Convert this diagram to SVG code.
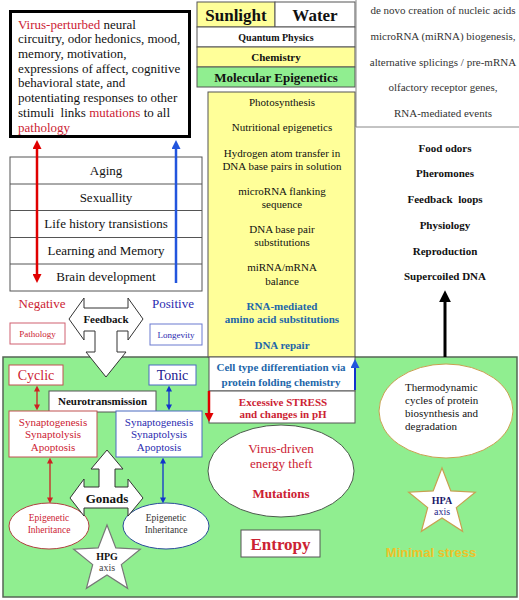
<svg xmlns="http://www.w3.org/2000/svg" width="519" height="600" viewBox="0 0 519 600" font-family="Liberation Serif, Times New Roman, serif">
<style>
text{font-family:"Liberation Serif","Times New Roman",serif;fill:#111;text-anchor:middle}
.b{font-weight:bold}
.red{fill:#cc2233}
.blue{fill:#2b2bb0}
.steel{fill:#2266aa;font-weight:bold}
.box{fill:#fff;stroke:#555;stroke-width:1}
.yel{fill:#ffff99;stroke:#555;stroke-width:1}
.grn{fill:#90ee90;stroke:#555;stroke-width:1}
.gray{fill:#333}
</style>
<defs>
<marker id="hRed" viewBox="0 0 10 10" refX="1" refY="5" markerWidth="10" markerHeight="9" markerUnits="userSpaceOnUse" orient="auto-start-reverse"><path d="M0,0 L10,5 L0,10 z" fill="#e00000"/></marker>
<marker id="hBlue" viewBox="0 0 10 10" refX="1" refY="5" markerWidth="10" markerHeight="9" markerUnits="userSpaceOnUse" orient="auto-start-reverse"><path d="M0,0 L10,5 L0,10 z" fill="#2255dd"/></marker>
<marker id="hBlack" viewBox="0 0 10 10" refX="1" refY="5" markerWidth="12" markerHeight="12" markerUnits="userSpaceOnUse" orient="auto-start-reverse"><path d="M0,0 L10,5 L0,10 z" fill="#000"/></marker>
<marker id="sRed" viewBox="0 0 10 10" refX="1" refY="5" markerWidth="6" markerHeight="6" markerUnits="userSpaceOnUse" orient="auto-start-reverse"><path d="M0,0 L10,5 L0,10 z" fill="#cc2222"/></marker>
<marker id="sBlue" viewBox="0 0 10 10" refX="1" refY="5" markerWidth="6" markerHeight="6" markerUnits="userSpaceOnUse" orient="auto-start-reverse"><path d="M0,0 L10,5 L0,10 z" fill="#1133cc"/></marker>
<polygon id="star" points="0,-35 8.8,-12.1 33.3,-10.8 14.3,4.6 20.6,28.3 0,15 -20.6,28.3 -14.3,4.6 -33.3,-10.8 -8.8,-12.1"/>
</defs>

<!-- green region -->
<rect x="3" y="357" width="514" height="240" fill="#90ee90" stroke="#556655" stroke-width="1.5"/>

<!-- top-left text box -->
<g id="virusBox">
<rect x="10.5" y="11.5" width="179" height="125" fill="#fff"/>
<text x="18" font-size="13" style="text-anchor:start">
<tspan x="18" y="28.5"><tspan class="red">Virus-perturbed</tspan> neural</tspan>
<tspan x="18" y="43">circuitry, odor hedonics, mood,</tspan>
<tspan x="18" y="57.5">memory, motivation,</tspan>
<tspan x="18" y="72.5">expressions of affect, cognitive</tspan>
<tspan x="18" y="87">behavioral state, and</tspan>
<tspan x="18" y="102">potentiating responses to other</tspan>
<tspan x="18" y="117">stimuli&#160; links <tspan class="red">mutations</tspan> to all</tspan>
<tspan x="18" y="132" class="red">pathology</tspan>
</text>
<rect x="10.5" y="11.5" width="179" height="125" fill="none" stroke="#000" stroke-width="3"/>
</g>

<!-- header -->
<g id="sunlight"><rect class="yel" x="197" y="2" width="78" height="25"/><text class="b" x="236" y="21" font-size="17">Sunlight</text></g>
<g id="water"><rect class="box" x="275" y="2" width="80" height="25"/><text class="b" x="315" y="21" font-size="17">Water</text></g>
<g id="quantum"><rect class="box" x="197" y="27" width="158" height="20"/><text class="b" x="276" y="41" font-size="10">Quantum Physics</text></g>
<g id="chemistry"><rect class="yel" x="197" y="47" width="158" height="20"/><text class="b" x="276" y="61" font-size="11">Chemistry</text></g>
<g id="molepi"><rect class="grn" x="197" y="67" width="158" height="20"/><text class="b" x="276" y="82" font-size="13">Molecular Epigenetics</text></g>

<!-- right top panel -->
<g id="rightPanel">
<line x1="356" y1="0" x2="356" y2="127" stroke="#888" stroke-width="1"/>
<line x1="356" y1="127" x2="519" y2="127" stroke="#888" stroke-width="1"/>
<text class="gray" x="443" y="14" font-size="11">de novo creation of nucleic acids</text>
<text class="gray" x="443" y="40" font-size="11">microRNA (miRNA) biogenesis,</text>
<text class="gray" x="443" y="66" font-size="11">alternative splicings / pre-mRNA</text>
<text class="gray" x="443" y="91" font-size="11">olfactory receptor genes,</text>
<text class="gray" x="443" y="117" font-size="11">RNA-mediated events</text>
</g>

<!-- yellow column -->
<g id="yellowCol">
<rect class="yel" x="208" y="92" width="147" height="265"/>
<text x="282" y="106" font-size="11">Photosynthesis</text>
<text x="282" y="131" font-size="11">Nutritional epigenetics</text>
<text x="282" y="157" font-size="11">Hydrogen atom transfer in</text>
<text x="282" y="169.5" font-size="11">DNA base pairs in solution</text>
<text x="282" y="195" font-size="11">microRNA flanking</text>
<text x="282" y="208" font-size="11">sequence</text>
<text x="282" y="233" font-size="11">DNA base pair</text>
<text x="282" y="246" font-size="11">substitutions</text>
<text x="282" y="271" font-size="11">miRNA/mRNA</text>
<text x="282" y="284.5" font-size="11">balance</text>
<text class="steel" x="282" y="310" font-size="11">RNA-mediated</text>
<text class="steel" x="282" y="323" font-size="11">amino acid substitutions</text>
<text class="steel" x="282" y="349" font-size="11">DNA repair</text>
</g>

<!-- right bold list -->
<g id="rightList">
<text class="b" x="445" y="152" font-size="11">Food odors</text>
<text class="b" x="445" y="177" font-size="11">Pheromones</text>
<text class="b" x="445" y="203" font-size="11">Feedback&#160; loops</text>
<text class="b" x="445" y="229" font-size="11">Physiology</text>
<text class="b" x="445" y="255" font-size="11">Reproduction</text>
<text class="b" x="445" y="280" font-size="11">Supercoiled DNA</text>
</g>

<!-- left table -->
<g id="lifeTable">
<rect class="box" x="10" y="157" width="192" height="134"/>
<line x1="10" y1="184" x2="202" y2="184" stroke="#555"/>
<line x1="10" y1="210.5" x2="202" y2="210.5" stroke="#555"/>
<line x1="10" y1="237.5" x2="202" y2="237.5" stroke="#555"/>
<line x1="10" y1="264" x2="202" y2="264" stroke="#555"/>
<text x="106" y="175" font-size="13">Aging</text>
<text x="106" y="201.5" font-size="13">Sexuallity</text>
<text x="106" y="228" font-size="13">Life history transistions</text>
<text x="106" y="254.5" font-size="13">Learning and Memory</text>
<text x="106" y="281" font-size="13">Brain development</text>
</g>

<g id="negative"><text class="red" x="42" y="308" font-size="13">Negative</text></g>
<g id="positive"><text class="blue" x="173" y="308" font-size="13">Positive</text></g>
<g id="pathology"><rect x="10" y="323" width="55" height="21" fill="#fff" stroke="#d06070"/><text class="red" x="37.5" y="337" font-size="9">Pathology</text></g>
<g id="longevity"><rect x="150" y="324" width="52" height="21" fill="#fff" stroke="#6a7ad0"/><text class="blue" x="176" y="338" font-size="9">Longevity</text></g>

<!-- feedback arrow -->
<g id="feedback">
<polygon points="69,319 84,298 84,308 128,308 128,298 143,319 128,340 128,331 117,331 117,352 126,352 106,377 86,352 95,352 95,331 84,331 84,340" fill="#fff" stroke="#333" stroke-width="1"/>
<text class="b" x="106" y="323" font-size="11">Feedback</text>
</g>

<!-- center boxes -->
<g id="cellType"><rect class="box" x="209" y="357" width="146" height="34"/>
<text class="steel" x="281" y="371" font-size="11">Cell type differentiation via</text>
<text class="steel" x="281" y="386" font-size="11">protein folding chemistry</text></g>
<g id="stress"><rect class="box" x="209" y="391" width="146" height="32"/>
<text class="red b" x="283" y="406" font-size="11">Excessive STRESS</text>
<text class="red b" x="283" y="418" font-size="11">and changes in pH</text></g>
<g id="virusDriven"><ellipse cx="281" cy="471" rx="73" ry="46" fill="#fff" stroke="#4a5a4a"/>
<text class="red" x="281" y="453" font-size="13">Virus-driven</text>
<text class="red" x="281" y="468" font-size="13">energy theft</text>
<text class="red b" x="281" y="498" font-size="13">Mutations</text></g>
<g id="entropy"><rect class="box" x="241" y="530" width="79" height="27"/>
<text class="red b" x="280.5" y="550" font-size="17">Entropy</text></g>

<!-- right green -->
<g id="thermo"><ellipse cx="446" cy="411" rx="67" ry="47" fill="#fff" stroke="#c8a050"/>
<text x="405" y="391" font-size="11" style="text-anchor:start">Thermodynamic</text>
<text x="405" y="404" font-size="11" style="text-anchor:start">cycles of protein</text>
<text x="405" y="417" font-size="11" style="text-anchor:start">biosynthesis and</text>
<text x="405" y="430" font-size="11" style="text-anchor:start">degradation</text></g>
<g id="hpa"><use href="#star" x="442" y="503" fill="#fff" stroke="#c8a050" stroke-width="1.2"/>
<text class="b" x="442" y="504" font-size="10" style="fill:#1a1a6a">HPA</text>
<text x="442" y="515" font-size="10" style="fill:#2a2a8a">axis</text></g>
<g id="minimal"><text x="431" y="557" font-size="13" style="font-family:'Liberation Sans',Arial,sans-serif;font-weight:bold;fill:#eec22a">Minimal stress</text></g>

<!-- left green -->
<g id="cyclic"><rect x="9" y="365" width="54" height="20" fill="#fff" stroke="#c05050"/><text class="red" x="36" y="380" font-size="14">Cyclic</text></g>
<g id="tonic"><rect x="149" y="365" width="47" height="20" fill="#fff" stroke="#4a6ac0"/><text x="172.5" y="380" font-size="14" style="fill:#202090">Tonic</text></g>
<g id="neurotrans"><rect class="box" x="49" y="391" width="107" height="21"/><text class="b" x="102.5" y="405" font-size="11">Neurotransmission</text></g>
<g id="synRed"><rect x="9" y="411" width="88" height="46" fill="#fff" stroke="#c05050"/>
<text class="red" x="53" y="426" font-size="11">Synaptogenesis</text>
<text class="red" x="53" y="438" font-size="11">Synaptolysis</text>
<text class="red" x="53" y="451" font-size="11">Apoptosis</text></g>
<g id="synBlue"><rect x="116" y="411" width="86" height="46" fill="#fff" stroke="#4a6ac0"/>
<text class="blue" x="159" y="426" font-size="11">Synaptogenesis</text>
<text class="blue" x="159" y="438" font-size="11">Synaptolysis</text>
<text class="blue" x="159" y="451" font-size="11">Apoptosis</text></g>
<g id="epiRed"><ellipse cx="49" cy="526" rx="40" ry="23" fill="#fff" stroke="#b04040"/>
<text class="red" x="49" y="521" font-size="9.5">Epigenetic</text>
<text class="red" x="49" y="533" font-size="9.5">Inheritance</text></g>
<g id="epiBlue"><ellipse cx="166" cy="526" rx="43" ry="23" fill="#fff" stroke="#2a4a9a"/>
<text class="gray" x="166" y="521" font-size="9.5">Epigenetic</text>
<text class="gray" x="166" y="533" font-size="9.5">Inheritance</text></g>
<g id="gonads">
<polygon points="107,450 123,469 115,469 115,487 128,487 128,479 143,498 128,516 128,508 84,508 84,516 70,498 84,479 84,487 99,487 99,469 91,469" fill="#fff" stroke="#333" stroke-width="1"/>
<text class="b" x="107" y="503" font-size="13">Gonads</text></g>
<g id="hpg"><use href="#star" x="107" y="560" fill="#fff" stroke="#777" stroke-width="1.2"/>
<text class="b" x="107" y="560" font-size="10">HPG</text>
<text x="107" y="571" font-size="10" style="fill:#444">axis</text></g>

<!-- connectors -->
<g id="connectors" fill="none">
<line x1="37" y1="148" x2="37" y2="275" stroke="#e00000" stroke-width="2.5" marker-start="url(#hRed)" marker-end="url(#hRed)"/>
<line x1="176" y1="283" x2="176" y2="148" stroke="#2255dd" stroke-width="2.5" marker-end="url(#hBlue)"/>
<line x1="445" y1="357" x2="445" y2="301" stroke="#000" stroke-width="3" marker-end="url(#hBlack)"/>
<line x1="355" y1="390" x2="355" y2="367" stroke="#1133cc" stroke-width="2" marker-end="url(#hBlue)"/>
<line x1="209" y1="391" x2="209" y2="414" stroke="#e00000" stroke-width="2.5" marker-end="url(#hRed)"/>
<line x1="37" y1="391" x2="37" y2="405" stroke="#cc2222" stroke-width="1.3" marker-start="url(#sRed)" marker-end="url(#sRed)"/>
<line x1="169" y1="391" x2="169" y2="405" stroke="#1133cc" stroke-width="1.3" marker-start="url(#sBlue)" marker-end="url(#sBlue)"/>
<line x1="50" y1="463" x2="50" y2="498" stroke="#cc2222" stroke-width="1.3" marker-start="url(#sRed)" marker-end="url(#sRed)"/>
<line x1="163" y1="463" x2="163" y2="498" stroke="#1133cc" stroke-width="1.3" marker-start="url(#sBlue)" marker-end="url(#sBlue)"/>
</g>
</svg>
